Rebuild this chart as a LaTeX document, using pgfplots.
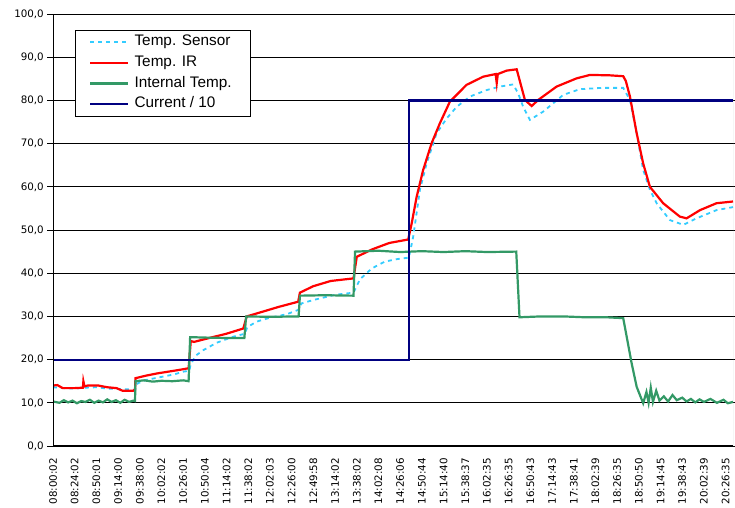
\documentclass[border=0pt]{standalone}
\usepackage{pgfplots}
\pgfplotsset{compat=1.18}
\usepackage{fontspec}
\setmainfont{Liberation Sans}
\newfontfamily\tickfont{DejaVu Sans}
\definecolor{sensor}{HTML}{33CCFF}
\definecolor{irred}{HTML}{FF0000}
\definecolor{intgreen}{HTML}{339966}
\definecolor{curblue}{HTML}{000080}
\begin{document}
\begin{tikzpicture}[x=1pt,y=1pt]
\useasboundingbox (0,0) rectangle (735,507);
\begin{axis}[
  at={(53pt,61pt)}, anchor=south west,
  scale only axis, width=680pt, height=432pt,
  xmin=0, xmax=31.34, ymin=0, ymax=100,
  xtick={0,...,31},
  xticklabels={08:00:02,08:24:02,08:50:01,09:14:00,09:38:00,10:02:02,10:26:01,10:50:04,11:14:02,11:38:02,12:02:03,12:26:00,12:49:58,13:14:02,13:38:02,14:02:08,14:26:06,14:50:44,15:14:40,15:38:37,16:02:35,16:26:35,16:50:43,17:14:43,17:38:41,18:02:39,18:26:35,18:50:50,19:14:45,19:38:43,20:02:39,20:26:35},
  xticklabel style={rotate=90, anchor=east, font=\tickfont\fontsize{10.3}{11}\selectfont, inner sep=0pt},
  xticklabel shift=6pt,
  x tick style={draw=none},
  ytick={0,10,...,100},
  yticklabel style={font=\tickfont\fontsize{10.3}{11}\selectfont, inner sep=0pt},
  yticklabel shift=3pt,
  /pgf/number format/.cd, fixed, fixed zerofill, precision=1, use comma, assume math mode=true,
  /pgfplots/.cd,
  tick align=outside, major tick length=6pt,
  y tick style={black, line width=0.8pt},
  axis line style={draw=none},
  ymajorgrids, grid style={black, line width=0.8pt},
  clip=true,
  legend style={at={(0.0324,0.963)}, anchor=north west, draw=black, line width=0.7pt, fill=white,
    font=\fontsize{15.3}{17}\selectfont, row sep=5.6pt, inner xsep=14pt, inner ysep=4.5pt,
    nodes={inner xsep=5pt, inner ysep=0pt, text height=11pt, text depth=4pt}},
  legend cell align=left,
  legend image code/.code={\draw[#1] (0pt,0pt) -- (38pt,0pt);},
]
\draw[gray!55, line width=0.8pt] (rel axis cs:1,0) -- (rel axis cs:1,1);
% Temp. Sensor
\addplot[sensor, line width=1.8pt, dash pattern=on 4pt off 4pt] coordinates {
(0,13.6) (0.5,13.4) (1,13.3) (1.5,13.5) (2,13.6) (2.5,13.3) (3,13.2) (3.5,13.1) (3.78,13.0)
(3.9,14.5) (4.3,15.3) (5,16.0) (5.6,16.6) (6.0,17.2) (6.28,17.4)
(6.35,19.0) (6.6,21.0) (6.93,22.2) (7.54,23.9) (8.31,25.3) (8.85,26.0)
(8.95,27.5) (9.39,28.8) (10.0,29.7) (10.77,30.5) (11.3,31.5)
(11.45,33.0) (12.0,33.8) (13.0,35.0) (13.85,35.5)
(14.15,38.6) (14.69,41.1) (15.3,42.7) (15.9,43.3) (16.4,43.6)
(16.6,48.4) (16.91,59.3) (17.22,65.4) (17.68,72.4) (18.14,75.8) (18.6,78.5) (19.22,80.9)
(19.99,82.4) (20.6,83.2) (21.21,83.7) (21.44,81.6) (21.67,78.5) (21.98,75.5) (22.59,77.4)
(23.52,81.3) (24.29,82.6) (25.3,82.9) (26.28,82.9) (26.59,80.1) (26.9,72.4) (27.2,63.9)
(27.51,59.3) (27.82,56.2) (28.43,52.3) (29.05,51.2) (29.66,52.7) (30.58,54.6) (31.34,55.3)
};
\addlegendentry{Temp. Sensor}
% Temp. IR
\addplot[irred, line width=2.2pt] coordinates {
(0,14.0) (0.2,14.1) (0.45,13.4) (1.0,13.4) (1.38,13.5) (1.40,15.0) (1.45,13.8) (1.6,14.0)
(2.09,14.0) (2.5,13.6) (2.93,13.4) (3.2,12.8) (3.7,12.8) (3.78,13.0)
(3.8,15.7) (4.3,16.3) (4.8,16.8) (5.3,17.2) (5.8,17.6) (6.25,18.0)
(6.35,24.3) (6.5,24.1) (7.2,25.0) (8.0,26.0) (8.77,27.2)
(8.93,30.0) (9.6,31.0) (10.4,32.2) (11.3,33.4)
(11.38,35.5) (12.0,37.0) (12.8,38.2) (13.85,38.8)
(14.0,43.8) (14.7,45.5) (15.5,47.0) (16.37,47.8)
(16.53,51.5) (16.76,57.7) (17.06,63.9) (17.45,70.1) (17.83,74.7) (18.29,79.7) (19.06,83.6)
(19.83,85.5) (20.4,86.1) (20.45,84.0) (20.5,86.1) (20.91,86.9) (21.37,87.2)
(21.75,80.1) (22.06,78.7) (22.36,80.1) (23.21,83.2) (24.13,85.1) (24.75,85.9) (25.67,85.8)
(26.28,85.6) (26.4,84.5) (26.59,80.9) (26.9,72.4) (27.2,65.4) (27.51,60.0) (28.12,56.2)
(28.89,53.1) (29.2,52.7) (29.82,54.6) (30.58,56.2) (31.34,56.6)
};
\addlegendentry{Temp. IR}
% Internal Temp.
\addplot[intgreen, line width=2.2pt] coordinates {
(0,10.3) (0.3,10.0) (0.5,10.6) (0.7,10.1) (0.9,10.5) (1.1,9.9) (1.3,10.4) (1.5,10.2)
(1.7,10.7) (1.9,10.0) (2.1,10.5) (2.3,10.1) (2.5,10.8) (2.7,10.2) (2.9,10.6) (3.1,10.0)
(3.3,10.7) (3.5,10.2) (3.7,10.5) (3.78,10.4)
(3.80,15.0) (4.2,15.2) (4.6,14.9) (5.0,15.1) (5.5,15.0) (6.0,15.2) (6.25,15.0)
(6.32,25.2) (7,25.1) (8,25.0) (8.82,25.0)
(8.9,30.0) (10,29.9) (11.32,30.0)
(11.38,34.8) (12.5,34.9) (13.85,34.8)
(13.92,45.0) (15,45.2) (16,44.9) (17,45.1) (18,44.9) (19,45.1) (20,44.9) (21.35,45.0)
(21.5,29.8) (22.5,30.0) (23.5,30.0) (24.5,29.8) (25.5,29.8) (26.28,29.6)
(26.44,25.3) (26.67,19.1) (26.9,13.7) (27.2,9.9)
(27.35,12.5) (27.45,10.0) (27.55,13.5) (27.65,10.2) (27.8,12.8) (27.95,10.5) (28.15,11.5)
(28.35,10.3) (28.55,11.8) (28.75,10.6) (29.0,11.2) (29.2,10.3) (29.4,10.9) (29.6,10.1)
(29.8,10.8) (30.0,10.2) (30.3,10.9) (30.6,10.0) (30.9,10.7) (31.1,9.9) (31.34,10.2)
};
\addlegendentry{Internal Temp.}
% Current / 10
\addplot[curblue, line width=2.2pt] coordinates {
(0,20) (16.41,20) (16.41,80) (31.34,80)
};
\addlegendentry{Current / 10}
\draw[black, line width=1.6pt] (rel axis cs:0,0) -- (rel axis cs:0,1);
\draw[black, line width=2.6pt] (rel axis cs:0,0) -- (rel axis cs:1,0);
\end{axis}
\end{tikzpicture}
\end{document}
